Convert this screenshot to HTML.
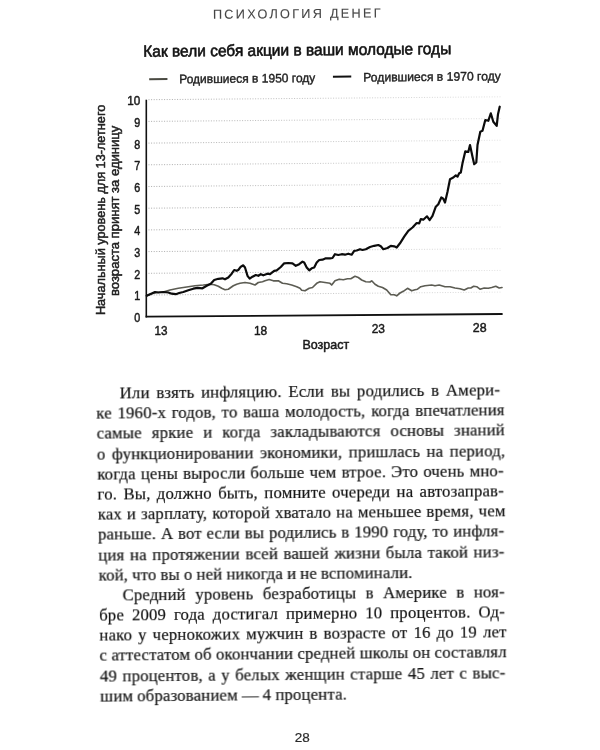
<!DOCTYPE html>
<html lang="ru"><head><meta charset="utf-8"><title>Психология денег</title>
<style>
html,body{margin:0;padding:0;background:#fff}
body{width:600px;height:750px;position:relative;overflow:hidden;font-family:"Liberation Serif",serif}
svg{position:absolute;left:0;top:0;will-change:transform}
svg text{font-family:"Liberation Sans",sans-serif;stroke-linejoin:round}
.txt{will-change:transform;position:absolute;left:96.2px;top:382px;width:408.5px;transform:rotate(-0.47deg);transform-origin:203px -6px;font:16.8px/20.2px "Liberation Serif",serif;color:#141414;-webkit-text-stroke:0.2px #141414;letter-spacing:0.15px;word-spacing:-0.35px}
.l{height:20.2px;white-space:nowrap;text-align:justify;text-align-last:justify}
.i{padding-left:23.6px}
.e{text-align-last:left}
</style></head><body>
<svg width="600" height="750" viewBox="0 0 600 750">
<g transform="rotate(-0.45 298 14)"><text x="212.9" y="18.1" font-size="13" fill="#444" stroke="#444" stroke-width="0.1" letter-spacing="2.3" textLength="170" lengthAdjust="spacingAndGlyphs">ПСИХОЛОГИЯ ДЕНЕГ</text></g>
<g transform="rotate(-0.5 143.3 56.8)"><text x="143.3" y="56.8" font-size="16.2" fill="#111" stroke="#111" stroke-width="0.6" textLength="308" lengthAdjust="spacingAndGlyphs">Как вели себя акции в ваши молодые годы</text></g>
<g transform="rotate(-0.55 179.2 83)" font-size="12.3" fill="#222" stroke="#222" stroke-width="0.4">
<line x1="149.2" y1="78.9" x2="167.5" y2="78.9" stroke="#4a4a42" stroke-width="2"/>
<text x="179.2" y="83.3" textLength="136.2" lengthAdjust="spacingAndGlyphs">Родившиеся в 1950 году</text>
<line x1="333" y1="78.2" x2="351.3" y2="78.2" stroke="#111" stroke-width="2"/>
<text x="363.3" y="83.3" textLength="137.5" lengthAdjust="spacingAndGlyphs">Родившиеся в 1970 году</text>
</g>
<defs><linearGradient id="gg" gradientUnits="userSpaceOnUse" x1="148" y1="0" x2="502" y2="0"><stop offset="0" stop-color="#aaaaaa"/><stop offset="0.55" stop-color="#c8c8c8"/><stop offset="1" stop-color="#e2e2e2"/></linearGradient></defs>
<g stroke="url(#gg)" stroke-width="1" stroke-dasharray="1 1.6" fill="none">
<line x1="148.5" y1="295.0" x2="502" y2="292.1"/>
<line x1="148.5" y1="273.3" x2="502" y2="270.4"/>
<line x1="148.5" y1="251.6" x2="502" y2="248.7"/>
<line x1="148.5" y1="229.9" x2="502" y2="227.0"/>
<line x1="148.5" y1="208.2" x2="502" y2="205.3"/>
<line x1="148.5" y1="186.5" x2="502" y2="183.6"/>
<line x1="148.5" y1="164.8" x2="502" y2="161.9"/>
<line x1="148.5" y1="143.1" x2="502" y2="140.2"/>
<line x1="148.5" y1="121.4" x2="502" y2="118.5"/>
<line x1="148.5" y1="99.7" x2="502" y2="96.8"/>
</g>
<polyline points="146.7,295.8 151.7,293.7 156.7,292.5 163.3,292.0 170.0,290.0 178.3,288.3 186.7,287.0 195.0,285.8 203.3,285.0 210.0,284.2 214.2,284.7 218.3,286.3 221.7,288.3 225.0,289.7 228.3,289.2 233.3,285.8 236.7,284.2 240.0,283.3 245.0,282.5 250.0,283.3 255.0,285.0 258.3,282.5 262.5,281.7 265.0,280.8 269.2,279.5 273.3,280.8 278.3,280.8 282.5,283.3 286.7,283.7 291.7,285.0 296.7,286.7 300.0,288.3 301.7,290.3 305.0,290.8 309.2,288.3 312.5,287.5 316.7,283.3 320.0,281.7 325.0,282.5 330.0,283.3 331.7,285.0 335.0,280.8 339.2,279.2 343.3,279.7 347.5,278.7 350.8,278.7 355.0,276.3 358.3,277.5 361.7,280.0 365.8,281.7 370.0,282.0 371.7,280.8 375.0,284.2 378.3,286.3 382.5,287.5 386.7,290.0 390.8,294.7 394.2,294.7 396.7,295.8 400.0,293.0 403.3,291.3 407.5,288.3 411.7,290.8 415.0,289.7 417.5,289.2 420.8,286.7 425.0,285.8 431.7,285.0 435.0,285.8 439.2,285.0 445.0,286.7 450.0,286.7 455.0,288.0 460.0,288.7 464.2,290.0 468.3,288.0 470.8,288.0 473.7,286.3 476.7,286.7 480.0,289.2 484.2,288.0 488.3,288.3 491.7,287.5 495.8,286.3 499.2,288.0 502.0,287.5" fill="none" stroke="#5c5c53" stroke-width="1.65" stroke-linejoin="round" stroke-linecap="round"/>
<polyline points="146.7,295.8 150.0,294.2 155.0,292.0 158.3,292.5 163.3,292.0 168.3,292.5 171.7,293.7 175.8,294.2 179.2,293.0 183.3,292.0 188.3,290.3 193.3,288.7 197.5,287.8 202.5,288.3 206.7,285.8 210.8,283.7 214.2,280.0 218.3,278.8 222.5,278.3 225.0,279.3 228.3,277.5 231.7,273.7 234.2,270.0 236.7,270.8 238.3,270.0 240.8,266.7 243.3,265.3 245.0,267.5 247.5,275.8 249.7,278.7 252.5,276.7 255.8,275.0 258.3,275.8 260.8,274.2 263.3,275.3 267.5,273.7 270.0,274.2 274.2,270.8 276.7,270.3 280.8,267.0 284.2,263.3 288.3,263.0 292.5,263.3 295.8,265.8 299.2,264.2 302.5,261.7 304.2,262.5 306.7,267.5 309.2,270.3 311.7,268.3 314.2,267.5 316.7,262.5 319.2,260.0 322.5,259.7 325.8,258.3 330.0,258.3 332.5,258.0 335.0,254.2 338.3,255.0 341.7,254.2 345.0,254.7 348.3,253.7 351.7,254.7 354.2,250.8 356.7,250.5 360.0,249.2 362.5,250.0 365.8,249.2 370.0,247.0 374.2,245.8 378.3,245.0 380.8,246.3 383.3,249.2 387.5,248.0 390.8,245.8 394.2,246.3 396.7,247.5 400.0,243.3 404.2,236.7 408.3,230.8 412.5,227.5 416.7,223.0 419.2,223.3 420.8,219.2 423.3,219.7 427.0,216.3 429.7,220.0 432.5,215.8 435.8,206.7 438.3,204.2 441.3,197.5 443.3,198.7 445.0,202.5 447.5,191.7 450.0,179.2 453.3,177.5 455.8,175.3 457.5,176.7 459.2,173.3 460.8,172.5 462.5,163.3 465.3,151.3 468.3,152.0 470.0,145.0 472.5,156.7 474.2,164.2 476.3,162.5 477.5,145.0 480.3,131.7 482.5,130.8 485.3,120.0 488.3,120.8 490.8,113.3 493.3,121.7 496.7,125.8 498.0,114.2 499.7,106.7" fill="none" stroke="#0c0c0c" stroke-width="2.2" stroke-linejoin="round" stroke-linecap="round"/>
<line x1="146.3" y1="99.7" x2="146.3" y2="317.5" stroke="#111" stroke-width="1.6"/>
<line x1="145.6" y1="316.7" x2="502.6" y2="314" stroke="#111" stroke-width="1.8"/>
<g font-size="13.5" fill="#1a1a1a" stroke="#1a1a1a" stroke-width="0.5">
<text x="134.3" y="322.1" textLength="6" lengthAdjust="spacingAndGlyphs">0</text>
<text x="134.3" y="300.4" textLength="6" lengthAdjust="spacingAndGlyphs">1</text>
<text x="134.3" y="278.7" textLength="6" lengthAdjust="spacingAndGlyphs">2</text>
<text x="134.3" y="257.0" textLength="6" lengthAdjust="spacingAndGlyphs">3</text>
<text x="134.3" y="235.3" textLength="6" lengthAdjust="spacingAndGlyphs">4</text>
<text x="134.3" y="213.6" textLength="6" lengthAdjust="spacingAndGlyphs">5</text>
<text x="134.3" y="191.9" textLength="6" lengthAdjust="spacingAndGlyphs">6</text>
<text x="134.3" y="170.2" textLength="6" lengthAdjust="spacingAndGlyphs">7</text>
<text x="134.3" y="148.5" textLength="6" lengthAdjust="spacingAndGlyphs">8</text>
<text x="134.3" y="126.8" textLength="6" lengthAdjust="spacingAndGlyphs">9</text>
<text x="127.3" y="105.1" textLength="13" lengthAdjust="spacingAndGlyphs">10</text>
<text x="154.5" y="335.3" textLength="13" lengthAdjust="spacingAndGlyphs">13</text>
<text x="253.9" y="334.6" textLength="13.3" lengthAdjust="spacingAndGlyphs">18</text>
<text x="371.7" y="332.6" textLength="13.3" lengthAdjust="spacingAndGlyphs">23</text>
<text x="472.8" y="331.9" textLength="13.8" lengthAdjust="spacingAndGlyphs">28</text>
<text x="302.5" y="348.7" font-size="12.6" textLength="46.7" lengthAdjust="spacingAndGlyphs">Возраст</text>
</g>
<g font-size="12.6" fill="#222" stroke="#222" stroke-width="0.5">
<text transform="translate(104.8 315.1) rotate(-90)" textLength="210.4" lengthAdjust="spacingAndGlyphs">Начальный уровень для 13-летнего</text>
<text transform="translate(118.6 296) rotate(-90)" textLength="170.3" lengthAdjust="spacingAndGlyphs">возраста принят за единицу</text>
</g>
<text x="294.7" y="742" font-size="12" fill="#2a2a2a" stroke="#2a2a2a" stroke-width="0.2" textLength="15" lengthAdjust="spacingAndGlyphs">28</text>
</svg>
<div class="txt">
<div class="l i" style="margin-left:0.0px;padding-right:4.6px">Или взять инфляцию. Если вы родились в Амери-</div>
<div class="l" style="margin-left:0.1px">ке 1960-х годов, то ваша молодость, когда впечатления</div>
<div class="l" style="margin-left:0.21px">самые яркие и когда закладываются основы знаний</div>
<div class="l" style="margin-left:0.32px">о функционировании экономики, пришлась на период,</div>
<div class="l" style="margin-left:0.42px;padding-right:1.6px">когда цены выросли больше чем втрое. Это очень мно-</div>
<div class="l" style="margin-left:0.53px;padding-right:1.6px">го. Вы, должно быть, помните очереди на автозаправ-</div>
<div class="l" style="margin-left:0.63px">ках и зарплату, которой хватало на меньшее время, чем</div>
<div class="l" style="margin-left:0.73px;padding-right:1.6px">раньше. А вот если вы родились в 1990 году, то инфля-</div>
<div class="l" style="margin-left:0.84px;padding-right:1.6px">ция на протяжении всей вашей жизни была такой низ-</div>
<div class="l e" style="margin-left:0.94px">кой, что вы о ней никогда и не вспоминали.</div>
<div class="l i" style="margin-left:1.05px;padding-right:1.6px">Средний уровень безработицы в Америке в ноя-</div>
<div class="l" style="margin-left:1.16px;padding-right:1.6px">бре 2009 года достигал примерно 10 процентов. Од-</div>
<div class="l" style="margin-left:1.26px">нако у чернокожих мужчин в возрасте от 16 до 19 лет</div>
<div class="l" style="margin-left:1.36px">с аттестатом об окончании средней школы он составлял</div>
<div class="l" style="margin-left:1.47px;padding-right:1.6px">49 процентов, а у белых женщин старше 45 лет с выс-</div>
<div class="l e" style="margin-left:1.57px">шим образованием — 4 процента.</div>
</div>
</body></html>
